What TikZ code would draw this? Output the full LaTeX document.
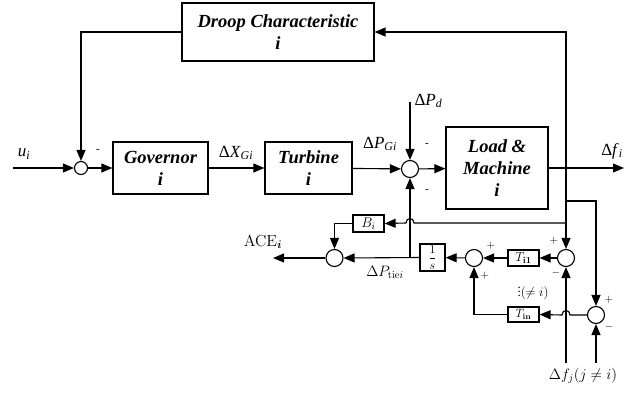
\RequirePackage{fix-cm}
\documentclass[tikz,border=0pt]{standalone}
\usepackage{amsmath}
\usepackage[no-math]{fontspec}
\setmainfont{Liberation Serif}
\usetikzlibrary{arrows.meta}
\begin{document}
\begin{tikzpicture}[x=1pt,y=-1pt, line width=1.1pt,
  >={Triangle[length=11pt,width=9pt]},
  blk/.style={draw, line width=1.2pt, inner sep=0pt, align=center,
    font=\fontsize{18.5}{22}\selectfont\bfseries\itshape},
  sblk/.style={draw, line width=1.2pt, inner sep=0pt},
  sumA/.style={draw, circle, inner sep=0pt, minimum size=13pt},
  sumB/.style={draw, circle, inner sep=0pt, minimum size=17pt},
  tlab/.style={font=\fontsize{17}{19}\selectfont, inner sep=0pt},
  mlab/.style={font=\fontsize{16}{18}\selectfont, inner sep=0pt},
  sgn/.style={font=\fontsize{11}{13}\selectfont, inner sep=0pt}]
\useasboundingbox (0,0) rectangle (641,392);

% blocks
\node[blk, minimum width=192pt, minimum height=58pt] (droop) at (278,32) {Droop Characteristic\\ i};
\node[blk, minimum width=95pt, minimum height=52pt] (gov) at (160.5,168) {Governor\\ i};
\node[blk, minimum width=87pt, minimum height=52pt] (turb) at (308.5,168) {Turbine\\ i};
\node[blk, minimum width=102pt, minimum height=82pt] (load) at (497,168) {Load \&\\ Machine\\ i};
\node[sblk, minimum width=31pt, minimum height=17pt, font=\fontsize{14}{16}\selectfont] (bi) at (368.5,223.5) {$B_i$};
\node[sblk, minimum width=25pt, minimum height=27pt, font=\fontsize{12}{14}\selectfont] (integ) at (432.5,257.5) {$\dfrac{1}{s}$};
\node[sblk, minimum width=31pt, minimum height=16pt, font=\fontsize{13}{15}\selectfont] (ti1) at (523.5,258) {$T_{\mathbf{i1}}$};
\node[sblk, minimum width=31pt, minimum height=15pt, font=\fontsize{12}{14}\selectfont] (tin) at (523.5,314.5) {$T_{\mathbf{in}}$};

% summing junctions
\node[sumA] (s1) at (81,168) {};
\node[sumB] (s2) at (410,169) {};
\node[sumB] (sace) at (334.5,258) {};
\node[sumB] (s4) at (474,258) {};
\node[sumB] (s3) at (566,258) {};
\node[sumB] (s5) at (596,315) {};

% free ends
\coordinate (in) at (13,168);
\coordinate (pd) at (410,102);
\coordinate (out) at (624,168);
\coordinate (j1) at (566,168);
\coordinate (j2) at (566,201);
\coordinate (j3) at (566,223);
\coordinate (j4) at (410,258);
\coordinate (ace) at (273,258);
\coordinate (fj1) at (566,363);
\coordinate (fj2) at (596,363);

% main path
\draw[->] (in) -- (s1);
\draw[->] (droop.west) -| (s1.north);
\draw[->] (s1) -- (gov);
\draw[->] (gov) -- (turb);
\draw[->] (turb) -- (s2);
\draw[->] (pd) -- (s2.north);
\draw[->] (s2) -- (load);
\draw[->] (load.east) -- (out);
\draw[->] (j1) |- (droop.east);
\draw[->] (j1) -- (s3.north);
\draw[->] (j2) -| (s5.north);
\draw[->] (j3) -- (414,223) .. controls (414,217) and (406,217) .. (406,223) -- (bi.east);
\draw[->] (bi.west) -| (sace.north);
\draw[->] (j4) -- (s2.south);
\draw[->] (integ.west) -- (sace.east);
\draw[->] (sace.west) -- (ace);
\draw[->] (s4) -- (integ);
\draw[->] (ti1) -- (s4);
\draw[->] (s3) -- (ti1);
\draw[->] (s5.west) -- (570,315) .. controls (570,309) and (562,309) .. (562,315) -- (tin.east);
\draw[->] (tin.west) -| (s4.south);
\draw[->] (fj1) -- (s3.south);
\draw[->] (fj2) -- (s5.south);

% labels
\node[tlab] (lu) at (24,154) {\textit{u}\textsubscript{\textit{i}}};
\node[sgn] (m1) at (98,151) {-};
\node[tlab] (lx) at (236,153) {Δ\textit{X}\textsubscript{\textit{Gi}}};
\node[tlab] (lpg) at (380,144) {Δ\textit{P}\textsubscript{\textit{Gi}}};
\node[tlab, anchor=west] (lpd) at (414,101) {Δ\textit{P}\textsubscript{\textit{d}}};
\node[sgn] (m2) at (427,145) {-};
\node[sgn] (m3) at (427,191) {-};
\node[tlab] (lf) at (612,151) {Δ\textit{f}\textsubscript{\textit{i}}};
\node[mlab] (lace) at (263,242) {$\mathrm{ACE}_{\boldsymbol{i}}$};
\node[mlab, font=\fontsize{15}{17}\selectfont] (lpt) at (385,272) {$\Delta P_{\mathrm{tie}i}$};
\node[sgn] (p1) at (491,246) {$+$};
\node[sgn] (p2) at (485,276) {$+$};
\node[sgn] (p3) at (554,241) {$+$};
\node[sgn] (m4) at (556,273) {$-$};
\node[sgn] (p4) at (609,300) {$+$};
\node[sgn] (m5) at (609,327) {$-$};
\node[mlab, font=\fontsize{13}{15}\selectfont] (lne) at (533,290) {$\vdots(\neq i)$};
\node[mlab, font=\fontsize{15}{17}\selectfont] (lfj) at (583,376) {$\Delta f_j(j\neq i)$};
\end{tikzpicture}
\end{document}
